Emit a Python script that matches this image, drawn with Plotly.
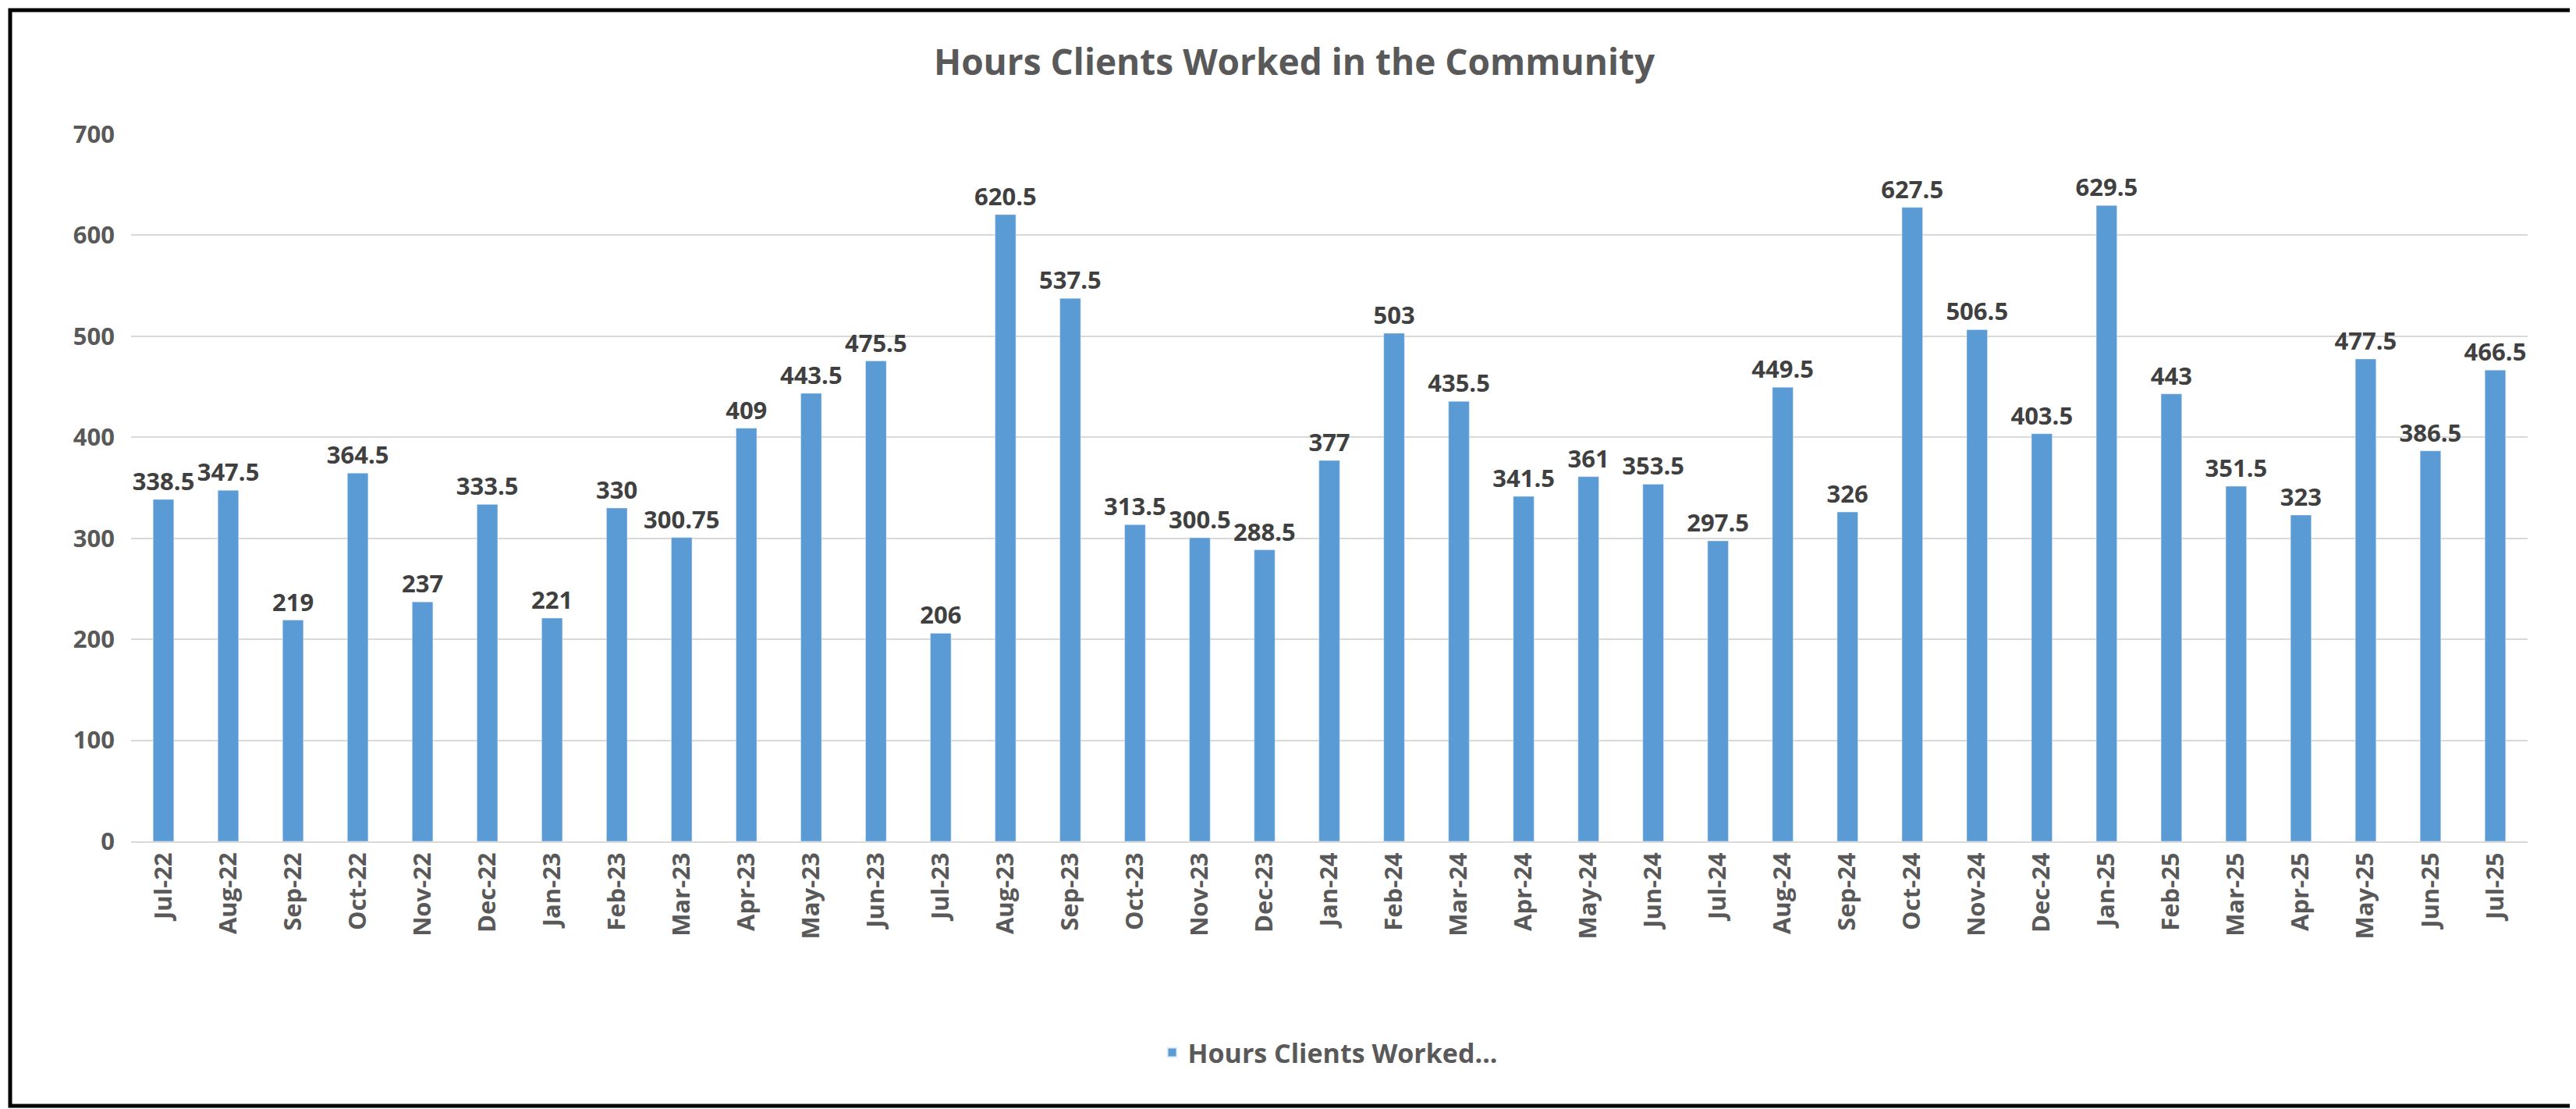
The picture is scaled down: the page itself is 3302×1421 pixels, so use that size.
import plotly.graph_objects as go

months = ["Jul-22","Aug-22","Sep-22","Oct-22","Nov-22","Dec-22","Jan-23","Feb-23","Mar-23","Apr-23","May-23","Jun-23",
          "Jul-23","Aug-23","Sep-23","Oct-23","Nov-23","Dec-23","Jan-24","Feb-24","Mar-24","Apr-24","May-24","Jun-24",
          "Jul-24","Aug-24","Sep-24","Oct-24","Nov-24","Dec-24","Jan-25","Feb-25","Mar-25","Apr-25","May-25","Jun-25","Jul-25"]
hours = [338.5,347.5,219,364.5,237,333.5,221,330,300.75,409,443.5,475.5,
         206,620.5,537.5,313.5,300.5,288.5,377,503,435.5,341.5,361,353.5,
         297.5,449.5,326,627.5,506.5,403.5,629.5,443,351.5,323,477.5,386.5,466.5]

W, H = 3302, 1421
L, R, T, B = 160, 70, 164, 351
FONT = "Open Sans"
pw, ph = W - L - R, H - T - B
fig = go.Figure(go.Bar(
    x=months, y=hours, name="<b>Hours Clients Worked...</b>",
    marker_color="#5B9BD5", width=0.32,
    text=[f"{v:g}" for v in hours], texttemplate="<b>%{text}</b>",
    textposition="outside", cliponaxis=False, textangle=0, constraintext="none",
    textfont=dict(family=FONT, size=31, color="#404040"),
))
fig.update_layout(
    width=W, height=H, margin=dict(l=L, r=R, t=T, b=B),
    paper_bgcolor="white", plot_bgcolor="white",
    font=dict(family=FONT, color="#595959"),
    title=dict(text="<b>Hours Clients Worked in the Community</b>", x=0.5, xanchor="center",
               y=1 - 72 / H, yanchor="middle", font=dict(size=46, color="#595959")),
    showlegend=True,
    legend=dict(orientation="h", x=0.5, xanchor="center", y=-(1341 - (H - B)) / ph, yanchor="middle",
                font=dict(size=34, color="#595959", family=FONT), itemsizing="constant"),
    xaxis=dict(tickangle=-90, tickfont=dict(size=31, color="#595959", family=FONT),
               tickprefix="<b>", ticksuffix="</b>",
               showline=True, linecolor="#D9D9D9", linewidth=2, ticks=""),
    yaxis=dict(range=[0, 700], dtick=100, gridcolor="#D9D9D9", gridwidth=2,
               tickprefix="<b>", ticksuffix="</b>",
               tickfont=dict(size=31, color="#595959", family=FONT), zeroline=False, ticks="",
               ticklabelstandoff=20),
    shapes=[dict(type="rect", xref="paper", yref="paper",
                 x0=-(L - 5) / pw, x1=1 + (R - 12) / pw, y0=-(B - 12) / ph, y1=1 + (T - 5) / ph,
                 line=dict(color="black", width=5))],
)
fig.write_html("out.html")
